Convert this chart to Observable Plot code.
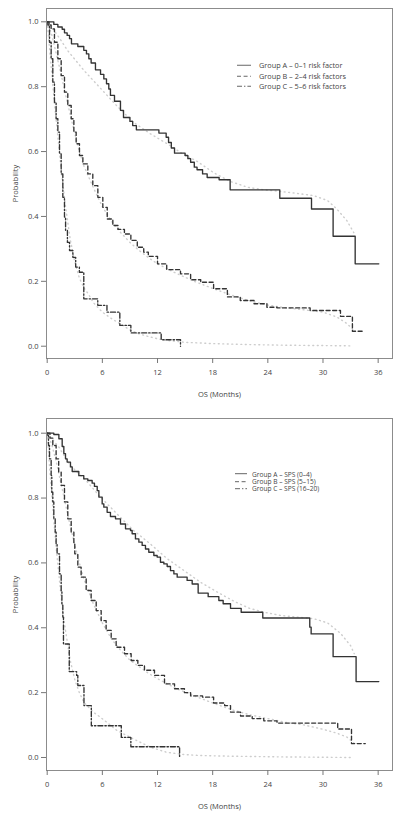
<!DOCTYPE html>
<html><head><meta charset="utf-8">
<script src="https://cdn.jsdelivr.net/npm/d3@7"></script>
<script src="https://cdn.jsdelivr.net/npm/@observablehq/plot@0.6"></script>
<style>
body{margin:0;background:#fff;}
#wrap{position:relative;width:400px;height:818px;font-family:"Open Sans",sans-serif;}
#wrap svg{display:block;}
.legend{position:absolute;color:#444;}
.legend .row{display:flex;align-items:center;white-space:nowrap;}
.legend svg{display:inline-block;}
</style></head><body><div id="wrap"></div>
<script>
// ---- tick values ----
const monthTicks = [0, 6, 12, 18, 24, 30, 36];
const probTicks = [0, 0.2, 0.4, 0.6, 0.8, 1.0];

// ---- legend labels ----
const legend1 = ["Group A – 0–1 risk factor", "Group B – 2–4 risk factors", "Group C – 5–6 risk factors"];
const legend2 = ["Group A – SPS (0–4)", "Group B – SPS (5–15)", "Group C – SPS (16–20)"];

// ---- Panel 1: Kaplan–Meier steps [month, survival] ----
const p1A = [[0,1],[0.72,0.992],[1.16,0.984],[1.63,0.977],[1.88,0.966],[2.17,0.958],[2.43,0.948],[2.64,0.932],[3.33,0.924],[3.98,0.912],[4.27,0.901],[4.53,0.886],[4.78,0.873],[5.25,0.852],[5.8,0.838],[6.16,0.824],[6.45,0.809],[6.7,0.793],[6.88,0.773],[7.32,0.755],[7.97,0.727],[8.3,0.705],[9.0,0.693],[9.3,0.68],[9.7,0.667],[12.15,0.657],[12.94,0.644],[13.2,0.628],[13.5,0.611],[13.85,0.595],[15.0,0.588],[15.3,0.578],[15.6,0.567],[16.0,0.552],[16.3,0.544],[16.9,0.531],[17.4,0.52],[18.7,0.513],[19.9,0.482],[25.3,0.456],[28.75,0.423],[31.1,0.339],[33.5,0.254],[36.07,0.254]];
const p1B = [[0,1],[0.2,0.99],[0.43,0.978],[0.79,0.937],[1.16,0.886],[1.52,0.834],[1.88,0.783],[2.24,0.742],[2.61,0.701],[2.9,0.66],[3.15,0.624],[3.51,0.588],[3.88,0.562],[4.42,0.531],[4.96,0.495],[5.51,0.459],[6.05,0.428],[6.53,0.392],[7.14,0.372],[7.7,0.36],[8.4,0.346],[9.1,0.326],[9.8,0.305],[10.5,0.29],[11.0,0.277],[12.0,0.254],[13.0,0.236],[14.5,0.223],[15.6,0.205],[16.7,0.197],[18.1,0.177],[19.6,0.152],[21.0,0.141],[22.5,0.131],[23.9,0.12],[25.0,0.118],[28.6,0.11],[31.9,0.092],[33.2,0.046],[34.3,0.046]];
const p1C = [[0,1],[0.07,0.99],[0.25,0.937],[0.43,0.886],[0.61,0.814],[0.79,0.752],[0.97,0.701],[1.16,0.66],[1.34,0.593],[1.52,0.531],[1.7,0.459],[1.88,0.398],[2.0,0.357],[2.2,0.32],[2.43,0.295],[2.79,0.274],[3.1,0.244],[3.5,0.228],[3.98,0.146],[5.5,0.126],[6.5,0.105],[7.9,0.064],[9.1,0.041],[12.4,0.02],[14.5,0.0]];
// ---- Panel 1: fitted curves (grey dotted) ----
const p1FitA = [[0,1],[0.7,0.975],[1.45,0.945],[2.2,0.912],[4,0.85],[5.8,0.795],[7.6,0.74],[9.4,0.69],[11.2,0.655],[13,0.625],[14.9,0.59],[16.3,0.57],[18.1,0.535],[19.9,0.508],[21.8,0.49],[23.6,0.482],[25.4,0.477],[27.2,0.471],[29,0.464],[30.5,0.449],[31.5,0.423],[32.6,0.387],[33.35,0.35]];
const p1FitB = [[0,1],[0.5,0.96],[1,0.9],[1.5,0.84],[2,0.775],[2.5,0.715],[3,0.655],[3.5,0.6],[4,0.555],[5,0.49],[6,0.43],[7,0.385],[8,0.35],[9,0.32],[10,0.295],[11,0.273],[12,0.254],[14,0.225],[16,0.2],[18,0.178],[20,0.158],[22,0.14],[24,0.127],[26,0.118],[28,0.112],[30,0.105],[31.5,0.09],[32.6,0.07],[33.3,0.05]];
const p1FitC = [[0,1],[0.25,0.92],[0.5,0.84],[0.75,0.76],[1,0.69],[1.25,0.62],[1.5,0.55],[1.75,0.49],[2,0.43],[2.5,0.33],[3,0.26],[3.5,0.21],[4,0.18],[4.5,0.16],[5,0.135],[6,0.105],[7,0.085],[8,0.068],[9,0.05],[10,0.038],[11,0.03],[12,0.023],[13,0.018],[15,0.012],[18,0.008],[22,0.005],[26,0.003],[30,0.002],[33,0.001]];

// ---- Panel 2: Kaplan–Meier steps ----
const p2A = [[0,1],[0.72,0.996],[1.27,0.983],[1.63,0.959],[1.81,0.937],[1.99,0.921],[2.17,0.911],[2.53,0.896],[2.72,0.882],[3.44,0.869],[3.98,0.859],[4.42,0.854],[4.89,0.846],[5.14,0.836],[5.44,0.823],[5.62,0.803],[5.98,0.782],[6.16,0.772],[6.52,0.756],[6.88,0.743],[7.43,0.736],[7.97,0.72],[8.52,0.705],[9.06,0.7],[9.24,0.69],[9.6,0.674],[9.97,0.664],[10.33,0.654],[10.69,0.643],[11.05,0.633],[11.6,0.623],[11.96,0.618],[12.32,0.602],[12.69,0.597],[13.05,0.589],[13.41,0.576],[13.78,0.566],[14.14,0.556],[15.22,0.546],[15.77,0.535],[16.42,0.507],[17.51,0.496],[18.67,0.484],[19.14,0.474],[19.94,0.46],[21.1,0.448],[23.45,0.43],[28.56,0.402],[28.71,0.381],[31.1,0.311],[33.6,0.234],[36.07,0.234]];
const p2B = [[0,1],[0.3,0.985],[0.61,0.962],[0.97,0.921],[1.25,0.88],[1.52,0.839],[1.88,0.788],[2.24,0.736],[2.61,0.695],[2.9,0.659],[3.0,0.628],[3.33,0.587],[3.69,0.556],[4.24,0.515],[4.78,0.484],[5.33,0.453],[5.87,0.422],[6.41,0.392],[6.96,0.366],[7.5,0.34],[8.41,0.32],[9.13,0.299],[9.86,0.284],[10.58,0.269],[11.67,0.253],[12.76,0.227],[13.85,0.212],[14.93,0.2],[15.6,0.19],[16.9,0.186],[18.1,0.168],[19.3,0.16],[19.94,0.14],[21.03,0.128],[22.3,0.12],[23.56,0.113],[25.0,0.106],[31.6,0.088],[33.1,0.043],[34.6,0.043]];
const p2C = [[0,1],[0.07,0.993],[0.14,0.962],[0.25,0.921],[0.43,0.87],[0.5,0.818],[0.61,0.788],[0.72,0.736],[0.87,0.695],[0.97,0.659],[1.08,0.628],[1.34,0.566],[1.52,0.515],[1.6,0.47],[1.7,0.433],[1.77,0.35],[2.4,0.265],[3.2,0.253],[3.33,0.222],[4.0,0.16],[4.8,0.098],[8.06,0.062],[9.1,0.033],[14.4,0.0]];
// ---- Panel 2: fitted curves ----
const p2FitA = [[0,1],[0.6,0.98],[1.27,0.957],[2.53,0.9],[4.35,0.85],[5.8,0.803],[7.6,0.751],[9.4,0.7],[11.2,0.659],[13,0.614],[14.9,0.576],[16.7,0.54],[18.5,0.51],[20.3,0.482],[22,0.46],[23.6,0.448],[25.4,0.438],[27.2,0.433],[29,0.428],[30.5,0.415],[31.9,0.383],[33,0.345],[33.4,0.32]];
const p2FitB = [[0,1],[0.5,0.965],[1,0.91],[1.5,0.845],[2,0.78],[2.5,0.715],[3,0.655],[3.5,0.6],[4,0.55],[5,0.475],[6,0.415],[7,0.365],[8,0.33],[9,0.3],[10,0.28],[11,0.26],[12,0.243],[14,0.213],[16,0.19],[18,0.168],[20,0.148],[22,0.132],[24,0.12],[26,0.108],[28,0.1],[30,0.087],[31.5,0.075],[32.6,0.063],[33.35,0.045]];
const p2FitC = [[0,1],[0.25,0.9],[0.5,0.81],[0.75,0.72],[1,0.64],[1.25,0.57],[1.5,0.5],[1.75,0.44],[2,0.39],[2.5,0.3],[3,0.24],[3.5,0.2],[4,0.17],[5,0.14],[5.8,0.124],[7.6,0.083],[9.4,0.057],[11.2,0.032],[13,0.016],[14.9,0.009],[16.7,0.006],[20,0.004],[25,0.002],[33,0.0]];

// ---- styles ----
const INK = "#333";
const dashes = {A: null, B: "4,2.6", C: "5,2,1.4,2"};

const rows = (pairs, group) => pairs.map(([t, s]) => ({t, s, group}));

function panel({km, fits, height, marginBottom, yDomain}) {
  const fitRows = fits.flatMap(([g, p]) => rows(p, g));
  return Plot.plot({
    width: 400, height,
    marginLeft: 46, marginRight: 8, marginTop: 8, marginBottom,
    x: {domain: [-0.076, 37.56]},
    y: {domain: yDomain},
    style: {fontSize: "7.5px", fontFamily: "'Open Sans', sans-serif", color: "#444", background: "#fff"},
    marks: [
      Plot.line(fitRows, {x: "t", y: "s", z: "group", stroke: "#cdcdcd", strokeWidth: 1.4, strokeDasharray: "0.9,3.6", strokeLinecap: "round"}),
      ...km.map(([g, p]) => Plot.line(rows(p, g), {x: "t", y: "s", curve: "step-after", stroke: INK, strokeWidth: 1.35, strokeDasharray: dashes[g]})),
      Plot.frame({stroke: "#8c8c8c", strokeWidth: 1}),
      Plot.axisY({ticks: probTicks, tickFormat: d3.format(".1f"), tickSize: 5, tickPadding: 3, stroke: "#777", label: "Probability", labelAnchor: "center", labelArrow: "none", labelOffset: 34}),
      Plot.axisX({ticks: monthTicks, tickSize: 5, tickPadding: 6, stroke: "#777", label: "OS (Months)", labelAnchor: "center", labelArrow: "none", labelOffset: 38})
    ]
  });
}

function legend(labels, {left, top, lineW, gap, rowH, fontSize}) {
  const div = document.createElement("div");
  div.className = "legend";
  div.style.left = left + "px";
  div.style.top = top + "px";
  div.style.fontSize = fontSize + "px";
  ["A", "B", "C"].forEach((g, i) => {
    const row = document.createElement("div");
    row.className = "row";
    row.style.height = rowH + "px";
    const s = d3.create("svg").attr("width", lineW + gap).attr("height", rowH);
    s.append("line").attr("x1", 0).attr("x2", lineW).attr("y1", rowH / 2).attr("y2", rowH / 2)
      .attr("stroke", "#555").attr("stroke-width", 0.9).attr("stroke-dasharray", dashes[g]);
    row.appendChild(s.node());
    const sp = document.createElement("span");
    sp.textContent = labels[i];
    row.appendChild(sp);
    div.appendChild(row);
  });
  return div;
}

const wrap = document.getElementById("wrap");
wrap.appendChild(panel({
  km: [["A", p1A], ["B", p1B], ["C", p1C]],
  fits: [["A", p1FitA], ["B", p1FitB], ["C", p1FitC]],
  height: 410, marginBottom: 52, yDomain: [-0.0379, 1.041]
}));
wrap.appendChild(panel({
  km: [["A", p2A], ["B", p2B], ["C", p2C]],
  fits: [["A", p2FitA], ["B", p2FitB], ["C", p2FitC]],
  height: 408, marginBottom: 48, yDomain: [-0.0401, 1.0453]
}));
wrap.appendChild(legend(legend1, {left: 237, top: 60, lineW: 14, gap: 8, rowH: 10.5, fontSize: 7.3}));
wrap.appendChild(legend(legend2, {left: 235, top: 470.3, lineW: 12, gap: 5, rowH: 7.4, fontSize: 6.6}));
</script></body></html>
